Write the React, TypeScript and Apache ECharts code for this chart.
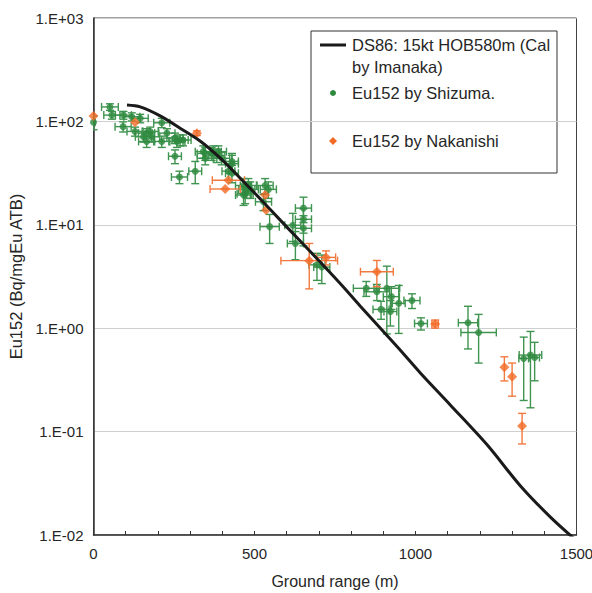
import React, { useEffect, useRef } from "react";
import * as echarts from "echarts";

// DS86 calculated curve
const curveX = [104, 145, 207, 269, 331, 393, 455, 518, 580, 642, 704, 776, 828, 944, 1015, 1108, 1223, 1326, 1419, 1500];
const curveY = [144, 138, 113, 86, 64.6, 44.3, 28.4, 17.8, 11.1, 6.96, 4.36, 2.5, 1.64, 0.658, 0.369, 0.181, 0.0741, 0.0298, 0.0149, 0.0088];

// Eu152 by Shizuma
const shizumaX = [0, 51, 57, 93, 92, 119, 145, 129, 155, 165, 176, 181, 165, 212, 212, 228, 253, 259, 269, 278, 253, 316, 267, 341, 347, 367, 372, 383, 388, 347, 398, 430, 430, 419, 430, 466, 476, 481, 471, 487, 466, 533, 543, 528, 547, 652, 652, 652, 619, 627, 694, 709, 847, 880, 911, 925, 948, 893, 922, 989, 1017, 1163, 1196, 1336, 1357, 1370];
const shizumaY = [98, 138, 115, 115, 89, 111, 107, 80, 71, 77, 80, 71, 64, 97, 64, 77, 69, 64, 66, 66, 46, 33, 29, 51, 49, 49, 51, 47, 51, 44, 44, 41, 39, 33, 31.5, 24, 22, 24, 20, 22, 19.4, 24, 22, 16.7, 9.6, 14.5, 11.3, 9.25, 9.9, 6.6, 4.1, 3.9, 2.43, 2.25, 2.43, 2.02, 1.74, 1.52, 1.45, 1.85, 1.11, 1.13, 0.91, 0.51, 0.55, 0.52];
const shizumaXErr = [5, 26, 25, 25, 25, 25, 25, 25, 25, 25, 25, 25, 25, 25, 25, 25, 25, 25, 25, 25, 20, 20, 25, 25, 25, 25, 25, 25, 25, 25, 25, 20, 20, 20, 20, 25, 25, 25, 25, 25, 25, 25, 25, 25, 30, 25, 25, 25, 25, 25, 25, 25, 40, 40, 40, 25, 20, 25, 20, 25, 20, 30, 55, 15, 35, 15];
const shizumaYErr = [15, 10, 10, 10, 10, 10, 10, 8, 8, 8, 8, 8, 8, 10, 8, 8, 8, 8, 8, 8, 7, 8, 4, 7, 7, 7, 7, 7, 7, 6, 6, 8, 8, 6, 6, 4, 4, 4, 4, 4, 4, 4, 4, 3, 3, 4, 3, 3, 3, 2, 1.2, 1.2, 0.4, 0.4, 1.55, 0.5, 0.85, 0.3, 0.4, 0.3, 0.15, 0.5, 0.45, 0.31, 0.38, 0.21];

// Eu152 by Nakanishi
const nakanishiX = [0, 129, 321, 419, 409, 533, 536, 670, 722, 880, 1061, 1276, 1300, 1331];
const nakanishiY = [113, 98, 77, 27, 22.2, 19.4, 13.9, 4.5, 4.84, 3.52, 1.1, 0.419, 0.34, 0.113];
const nakanishiXErr = [0, 0, 0, 50, 47, 0, 0, 88, 30, 51, 10, 0, 0, 0];
const nakanishiYErr = [0, 0, 4, 0, 0, 0, 0, 2.1, 0.75, 1.0, 0.1, 0.11, 0.12, 0.037];

const xTicks = [0, 500, 1000, 1500];
const legendLabels = ["DS86: 15kt HOB580m (Cal", "by Imanaka)", "Eu152 by Shizuma.", "Eu152 by Nakanishi"];

const GREEN = "#2E8A3E";
const GREEN_ERR = "#3F9450";
const ORANGE = "#F26A26";
const ORANGE_ERR = "#F27A40";
const FONT = "'Liberation Sans', Arial, sans-serif";

function errRender(color: string) {
  return (params: any, api: any) => {
    const x = api.value(0);
    const y = api.value(1);
    const xe = api.value(2);
    const ye = api.value(3);
    const children: any[] = [];
    const cap = 4;
    const style = { stroke: color, lineWidth: 1.4 };
    if (xe > 0) {
      const p1 = api.coord([x - xe, y]);
      const p2 = api.coord([x + xe, y]);
      children.push({ type: "line", shape: { x1: p1[0], y1: p1[1], x2: p2[0], y2: p2[1] }, style });
      children.push({ type: "line", shape: { x1: p1[0], y1: p1[1] - cap, x2: p1[0], y2: p1[1] + cap }, style });
      children.push({ type: "line", shape: { x1: p2[0], y1: p2[1] - cap, x2: p2[0], y2: p2[1] + cap }, style });
    }
    if (ye > 0) {
      const lo = Math.max(y - ye, 1e-4);
      const p1 = api.coord([x, y + ye]);
      const p2 = api.coord([x, lo]);
      children.push({ type: "line", shape: { x1: p1[0], y1: p1[1], x2: p2[0], y2: p2[1] }, style });
      children.push({ type: "line", shape: { x1: p1[0] - cap, y1: p1[1], x2: p1[0] + cap, y2: p1[1] }, style });
      children.push({ type: "line", shape: { x1: p2[0] - cap, y1: p2[1], x2: p2[0] + cap, y2: p2[1] }, style });
    }
    return { type: "group", children };
  };
}

export default function App() {
  const ref = useRef<HTMLDivElement>(null);
  useEffect(() => {
    if (!ref.current) return;
    const chart = echarts.init(ref.current, null, { renderer: "svg" });
    const curve = curveX.map((x, i) => [x, curveY[i]]);
    const shz = shizumaX.map((x, i) => [x, shizumaY[i], shizumaXErr[i], shizumaYErr[i]]);
    const nak = nakanishiX.map((x, i) => [x, nakanishiY[i], nakanishiXErr[i], nakanishiYErr[i]]);
    const textStyle = { fill: "#262626", font: `16.5px ${FONT}` };
    chart.setOption({
      animation: false,
      backgroundColor: "#fff",
      grid: {
        left: 93.5,
        top: 18,
        right: 15.5,
        bottom: 58,
        containLabel: false,
        outerBoundsMode: "none",
        show: true,
        borderColor: "#444",
        borderWidth: 1,
        backgroundColor: "transparent",
      },
      xAxis: {
        type: "value",
        min: 0,
        max: 1500,
        interval: 500,
        name: "Ground range (m)",
        nameLocation: "middle",
        nameGap: 38,
        nameTextStyle: { fontFamily: FONT, fontSize: 16, color: "#262626" },
        axisLine: { lineStyle: { color: "#333", width: 1.5 } },
        axisTick: { inside: true, length: 4, lineStyle: { color: "#333" } },
        minorTick: { show: true, splitNumber: 5, length: 4, lineStyle: { color: "#333" } },
        axisLabel: { fontFamily: FONT, fontSize: 15, color: "#262626", margin: 11, formatter: (v: number) => (xTicks.includes(v) ? String(v) : "") },
        splitLine: { show: false },
      },
      yAxis: {
        type: "log",
        logBase: 10,
        min: 0.01,
        max: 1000,
        name: "Eu152 (Bq/mgEu ATB)",
        nameLocation: "middle",
        nameGap: 67,
        nameTextStyle: { fontFamily: FONT, fontSize: 16.5, color: "#262626" },
        axisLine: { lineStyle: { color: "#333", width: 1.5 } },
        axisTick: { show: false },
        axisLabel: {
          fontFamily: FONT,
          fontSize: 15,
          color: "#262626",
          margin: 10,
          formatter: (v: number) => {
            const e = Math.round(Math.log10(v));
            return "1.E" + (e < 0 ? "-" : "+") + String(Math.abs(e)).padStart(2, "0");
          },
        },
        splitLine: { show: true, lineStyle: { color: "#cfcfcf", width: 1 } },
      },
      series: [
        { type: "custom", name: "shzErr", renderItem: errRender(GREEN_ERR), data: shz, encode: { x: 0, y: 1 }, clip: true, z: 2 },
        { type: "scatter", name: legendLabels[2], data: shz.map((d) => [d[0], d[1]]), symbol: "circle", symbolSize: 7, itemStyle: { color: GREEN }, z: 3 },
        { type: "custom", name: "nakErr", renderItem: errRender(ORANGE_ERR), data: nak, encode: { x: 0, y: 1 }, clip: true, z: 4 },
        { type: "scatter", name: legendLabels[3], data: nak.map((d) => [d[0], d[1]]), symbol: "diamond", symbolSize: 10, itemStyle: { color: ORANGE }, z: 5 },
        { type: "line", name: legendLabels[0], data: curve, smooth: 0.3, showSymbol: false, lineStyle: { color: "#1a1a1a", width: 3 }, clip: true, z: 6 },
      ],
      graphic: [
        {
          type: "group",
          z: 100,
          children: [
            { type: "rect", shape: { x: 311, y: 31, width: 246, height: 142 }, style: { fill: "#fff", stroke: "#333", lineWidth: 1 } },
            { type: "line", shape: { x1: 320, y1: 45, x2: 346, y2: 45 }, style: { stroke: "#1a1a1a", lineWidth: 3 } },
            { type: "text", x: 352, y: 45, style: { ...textStyle, text: legendLabels[0], textVerticalAlign: "middle" } },
            { type: "text", x: 352, y: 67, style: { ...textStyle, text: legendLabels[1], textVerticalAlign: "middle" } },
            { type: "circle", shape: { cx: 333, cy: 93, r: 3 }, style: { fill: GREEN } },
            { type: "text", x: 352, y: 93, style: { ...textStyle, text: legendLabels[2], textVerticalAlign: "middle" } },
            { type: "polygon", shape: { points: [[333, 137], [337, 141], [333, 145], [329, 141]] }, style: { fill: ORANGE } },
            { type: "text", x: 352, y: 141, style: { ...textStyle, text: legendLabels[3], textVerticalAlign: "middle" } },
          ],
        },
      ],
    });
    return () => chart.dispose();
  }, []);
  return <div ref={ref} style={{ position: "fixed", left: 0, top: 0, width: 592, height: 593, background: "#fff" }} />;
}
